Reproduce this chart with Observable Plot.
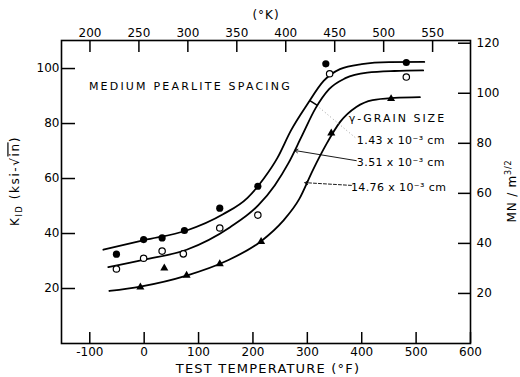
<!DOCTYPE html>
<html><head><meta charset="utf-8">
<script src="https://cdn.jsdelivr.net/npm/d3@7"></script>
<script src="https://cdn.jsdelivr.net/npm/@observablehq/plot@0.6"></script>
<style>
html,body{margin:0;padding:0;background:#fff;}
#chart svg{display:block;}
</style></head><body><div id="chart"></div>
<script>
// ---- data (x: test temperature °F, y: K_ID ksi·√in) ----
// fitted curves
const curve143F = [-75, 0, 78, 145, 190, 220, 245, 270, 300, 330, 360, 400, 450, 515];
const curve143K = [34.1, 37.6, 41.1, 47.0, 53.0, 60.0, 67.5, 77.5, 87.0, 95.5, 99.8, 101.6, 102.3, 102.4];
const curve351F = [-66, 0, 78, 158, 210, 240, 265, 290, 315, 340, 370, 410, 460, 513];
const curve351K = [27.8, 30.5, 34.1, 42.3, 50.3, 57.5, 65.5, 75.5, 85.5, 92.5, 96.5, 98.5, 99.1, 99.3];
const curve1476F = [-64, -7, 78, 151, 215, 255, 285, 310, 335, 360, 390, 420, 460, 507];
const curve1476K = [19.1, 20.7, 24.7, 30.0, 37.2, 44.5, 52.5, 63.0, 72.5, 80.5, 86.0, 88.5, 89.3, 89.6];
// measured points
const pts143F = [-51, -1, 33, 74, 139, 209, 334, 482];
const pts143K = [32.5, 37.8, 38.4, 41.1, 49.2, 57.2, 101.7, 102.2];
const pts351F = [-51, -1, 33, 72, 139, 209, 341, 482];
const pts351K = [27.1, 31.0, 33.6, 32.6, 42.0, 46.7, 98.1, 96.9];
const pts1476F = [-7, 37, 78, 139, 215, 344, 454];
const pts1476K = [20.5, 27.4, 24.8, 28.9, 37.0, 76.5, 89.0];
// tick labels
const bottomTicksF = [-100, 0, 100, 200, 300, 400, 500, 600];
const topTicksKelvin = [200, 250, 300, 350, 400, 450, 500, 550];
const leftTicksK = [20, 40, 60, 80, 100];
const rightTicksMN = [20, 40, 60, 80, 100, 120];
const MN_PER_KSI = 1.0988;
// annotations (data units)
const annotationText = ["MEDIUM PEARLITE SPACING", "\u03B3-GRAIN SIZE", "1.43 x 10\u207B\u00B3 cm", "3.51 x 10\u207B\u00B3 cm", "14.76 x 10\u207B\u00B3 cm"];
const annotationF = [-100.7, 377, 392, 392, 381];
const annotationK = [93.5, 81.8, 73.8, 65.8, 56.7];
const leaderF1 = [390, 381], leaderK1 = [66.5, 57.5], leaderF2 = [276.6, 295], leaderK2 = [70.2, 58.5];
const pointerF1 = [388], pointerK1 = [74.9], pointerF2 = [322], pointerK2 = [85.8];
const barF1 = [304], barK1 = [88.4], barF2 = [319], barK2 = [86.5];

const zipXY = (xs, ys) => xs.map((x, i) => ({F: x, K: ys[i]}));
const fToK = f => (f + 459.67) / 1.8;
const kToF = k => k * 1.8 - 459.67;

const W = 520, H = 377, MT = 40, MR = 50, MB = 34, ML = 61;
const FW = W - ML - MR, FH = H - MT - MB;
const XD = [-152, 600], YD = [0, 110.2];
const pxX = (XD[1] - XD[0]) / FW, pxY = (YD[1] - YD[0]) / FH; // data units per pixel
const FONT = "DejaVu Sans";
const plot = Plot.plot({
  width: W, height: H,
  marginTop: MT, marginRight: MR, marginBottom: MB, marginLeft: ML,
  style: {fontFamily: FONT, fontSize: "12px", background: "#fff", color: "#000", overflow: "visible"},
  x: {domain: XD},
  y: {domain: YD},
  marks: [
    // tick labels
    Plot.axisX({anchor: "bottom", ticks: bottomTicksF, tickSize: 0, tickPadding: 4, tickFormat: d => String(d), label: null, fontSize: 12}),
    Plot.axisX({anchor: "top", ticks: topTicksKelvin.map(kToF), tickSize: 0, tickPadding: 4, tickFormat: d => String(Math.round(fToK(d))), label: null, fontSize: 12}),
    Plot.axisY({anchor: "left", ticks: leftTicksK, tickSize: 0, tickPadding: 2, label: null, fontSize: 12}),
    Plot.axisY({anchor: "right", ticks: rightTicksMN.map(m => m / MN_PER_KSI), tickSize: 0, tickPadding: 6, tickFormat: d => String(Math.round(d * MN_PER_KSI)), label: null, fontSize: 12}),
    // inward tick marks
    Plot.ruleX(bottomTicksF, {x: d => d, y1: YD[0], y2: YD[0] + 11 * pxY, stroke: "#000", strokeWidth: 1.5}),
    Plot.ruleX(topTicksKelvin.map(kToF), {x: d => d, y1: YD[1], y2: YD[1] - 12 * pxY, stroke: "#000", strokeWidth: 1.5}),
    Plot.ruleY(leftTicksK, {y: d => d, x1: XD[0], x2: XD[0] + 14 * pxX, stroke: "#000", strokeWidth: 1.5}),
    Plot.ruleY(rightTicksMN.map(m => m / MN_PER_KSI), {y: d => d, x1: XD[1], x2: XD[1] - 12 * pxX, stroke: "#000", strokeWidth: 1.5}),
    Plot.frame({stroke: "#000", strokeWidth: 1.6}),
    Plot.line(zipXY(curve143F, curve143K), {x: "F", y: "K", curve: "monotone-x", stroke: "#000", strokeWidth: 1.8}),
    Plot.line(zipXY(curve351F, curve351K), {x: "F", y: "K", curve: "monotone-x", stroke: "#000", strokeWidth: 1.8}),
    Plot.line(zipXY(curve1476F, curve1476K), {x: "F", y: "K", curve: "monotone-x", stroke: "#000", strokeWidth: 1.8}),
    Plot.link(barF1.map((f, i) => ({x1: f, y1: barK1[i], x2: barF2[i], y2: barK2[i]})), {x1: "x1", y1: "y1", x2: "x2", y2: "y2", stroke: "#000", strokeWidth: 1.6}),
    Plot.link(pointerF1.map((f, i) => ({x1: f, y1: pointerK1[i], x2: pointerF2[i], y2: pointerK2[i]})), {x1: "x1", y1: "y1", x2: "x2", y2: "y2", stroke: "#888", strokeWidth: 0.8, strokeDasharray: "1,2.5"}),
    Plot.arrow([{x1: leaderF1[0], y1: leaderK1[0], x2: leaderF2[0], y2: leaderK2[0]}], {x1: "x1", y1: "y1", x2: "x2", y2: "y2", stroke: "#000", strokeWidth: 0.9, headLength: 6}),
    Plot.arrow([{x1: leaderF1[1], y1: leaderK1[1], x2: leaderF2[1], y2: leaderK2[1]}], {x1: "x1", y1: "y1", x2: "x2", y2: "y2", stroke: "#000", strokeWidth: 0.9, headLength: 6, strokeDasharray: "3,2"}),
    Plot.dot(zipXY(pts143F, pts143K), {x: "F", y: "K", r: 3.6, fill: "#000", stroke: "none"}),
    Plot.dot(zipXY(pts351F, pts351K), {x: "F", y: "K", r: 3.2, fill: "#fff", stroke: "#000", strokeWidth: 1.2}),
    Plot.dot(zipXY(pts1476F, pts1476K), {x: "F", y: "K", r: 3, symbol: "triangle", fill: "#000", stroke: "none"})
  ]
});

const svg = d3.select(plot);
const sx = plot.scale("x"), sy = plot.scale("y");
const g = svg.append("g").attr("font-family", FONT).attr("fill", "#000");

// in-plot annotations
const spacing = [2.2, 2, 0.4, 0.4, 0.4];
annotationText.forEach((t, i) => {
  g.append("text")
    .attr("x", sx.apply(annotationF[i]))
    .attr("y", sy.apply(annotationK[i]))
    .attr("dy", "0.36em")
    .attr("text-anchor", "start")
    .attr("font-size", 11)
    .attr("letter-spacing", spacing[i])
    .text(t);
});

// axis titles
g.append("text").attr("x", 266).attr("y", 15).attr("dy", "0.36em").attr("text-anchor", "middle")
  .attr("font-size", 12).attr("letter-spacing", 1).text("(\u00B0K)");
g.append("text").attr("x", 268).attr("y", 368).attr("dy", "0.36em").attr("text-anchor", "middle")
  .attr("font-size", 13).attr("letter-spacing", 1.2).text("TEST TEMPERATURE (\u00B0F)");

const yl = g.append("text").attr("transform", "translate(15,181) rotate(-90)").attr("dy", "0.36em")
  .attr("text-anchor", "middle").attr("font-size", 12).attr("letter-spacing", 1.6);
yl.append("tspan").text("K");
yl.append("tspan").attr("font-size", 8).attr("dy", 3).text("ID");
yl.append("tspan").attr("dy", -3).text(" (ksi-\u221A");
yl.append("tspan").attr("text-decoration", "overline").text("in");
yl.append("tspan").text(")");

const yr = g.append("text").attr("transform", "translate(512,191) rotate(-90)").attr("dy", "0.36em")
  .attr("text-anchor", "middle").attr("font-size", 12).attr("letter-spacing", 0.8);
yr.append("tspan").text("MN / m");
yr.append("tspan").attr("font-size", 8).attr("dy", -5).text("3/2");

document.getElementById("chart").appendChild(plot);
</script>
</body></html>
